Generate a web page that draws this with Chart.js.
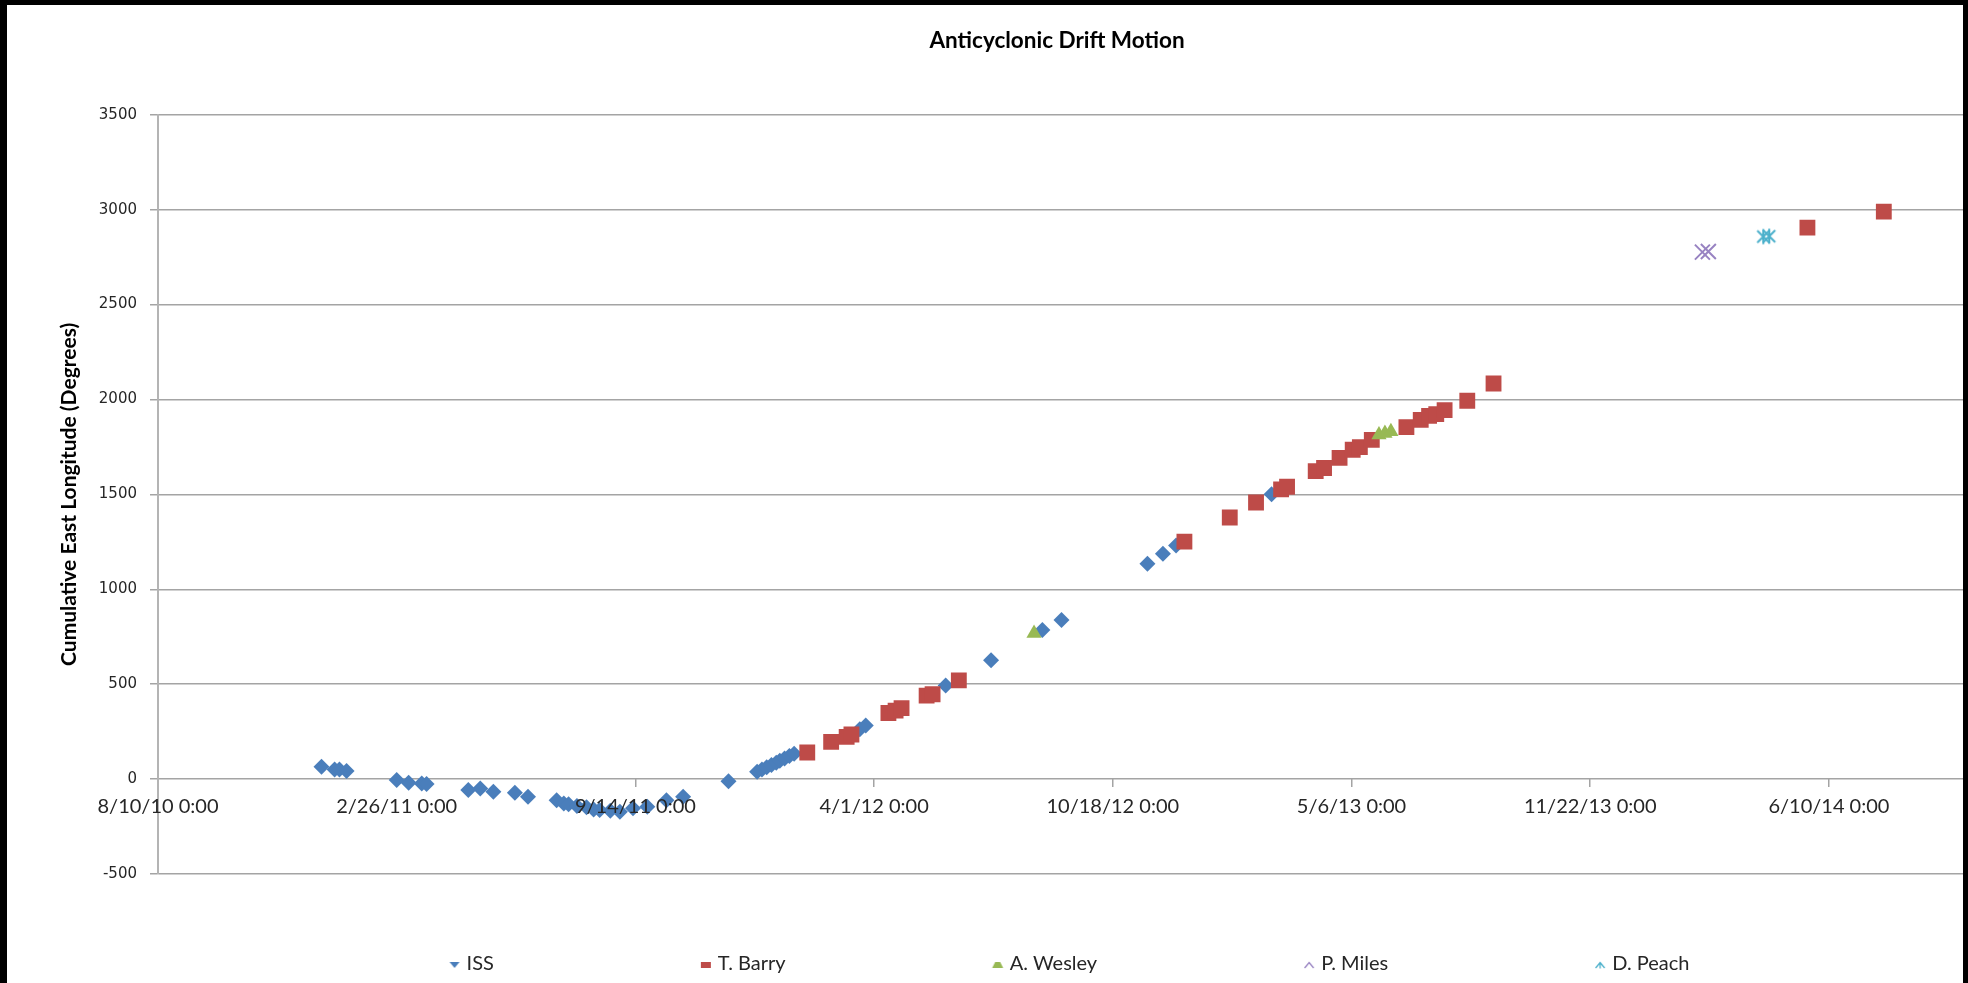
<!DOCTYPE html>
<html>
<head>
<meta charset="utf-8">
<title>Anticyclonic Drift Motion</title>
<script src="https://cdn.jsdelivr.net/npm/chart.js@4.4.1/dist/chart.umd.min.js"></script>
<style>
  html, body { margin: 0; padding: 0; background: #000; overflow: hidden; }
  #frame { position: absolute; left: 7px; top: 5px; width: 1956px; height: 978px; overflow: hidden; background: #fff; }
  #chart { display: block; }
</style>
</head>
<body>
<div id="frame"><canvas id="chart" width="2152" height="978"></canvas></div>
<script>
// Dates are spreadsheet serial day numbers (40400 = 8/10/10).
const X_MIN = 40400;
const X_MAX = 42033;
const X_STEP = 200;
const Y_MIN = -500;
const Y_MAX = 3500;
const Y_STEP = 500;

const CHART_TITLE = 'Anticyclonic Drift Motion';
const Y_TITLE = 'Cumulative East Longitude (Degrees)';
const SERIES_NAMES = ['ISS', 'T. Barry', 'A. Wesley', 'P. Miles', 'D. Peach'];

// ISS
const ISS_DATE = [40537, 40548, 40552, 40558, 40600, 40610, 40621, 40625, 40660, 40670, 40681,
  40699, 40710, 40734, 40740, 40744, 40751, 40759, 40765, 40770, 40779, 40787, 40798, 40810,
  40826, 40840, 40878, 40902, 40906, 40910, 40914, 40918, 40921, 40925, 40929, 40933, 40988,
  40993, 41060, 41098, 41141, 41157, 41229, 41242, 41253, 41333];
const ISS_LON = [65, 51, 51, 42, -5, -19, -23, -26, -58, -49, -67,
  -72, -93, -111, -129, -132, -142, -149, -160, -163, -167, -172, -154, -146,
  -111, -93, -12, 38, 50, 62, 74, 86, 97, 109, 121, 134, 262,
  282, 493, 626, 786, 838, 1134, 1187, 1230, 1500];

// T. Barry
const BARRY_DATE = [40944, 40964, 40977, 40981, 41012, 41018, 41023, 41044, 41049, 41071,
  41260, 41298, 41320, 41341, 41346, 41370, 41377, 41390, 41401, 41407, 41417, 41446, 41458,
  41465, 41471, 41478, 41497, 41519, 41782, 41846];
const BARRY_LON = [140, 196, 222, 235, 348, 361, 374, 440, 447, 520,
  1251, 1378, 1457, 1526, 1540, 1622, 1639, 1692, 1735, 1749, 1787, 1854, 1892,
  1913, 1923, 1944, 1993, 2084, 2905, 2989];

// A. Wesley
const WESLEY_DATE = [41134, 41423, 41428, 41433];
const WESLEY_LON = [768, 1814, 1822, 1831];

// P. Miles
const MILES_DATE = [41694, 41699];
const MILES_LON = [2776, 2779];

// D. Peach
const PEACH_DATE = [41745, 41750];
const PEACH_LON = [2858, 2860];

const COLORS = ['#4A7EBB', '#BE4B48', '#98B954', '#9883C2', '#4BB0CB'];
const TEXT = '#262626';
const GRID = '#A4A4A4';

function toPoints(dates, values) {
  return dates.map((d, i) => ({ x: d, y: values[i] }));
}

function serialLabel(serial) {
  const d = new Date(Date.UTC(1899, 11, 30) + serial * 86400000);
  const yy = String(d.getUTCFullYear() % 100).padStart(2, '0');
  return (d.getUTCMonth() + 1) + '/' + d.getUTCDate() + '/' + yy + ' 0:00';
}

function makeCanvas(w, h, draw) {
  const c = document.createElement('canvas');
  c.width = w;
  c.height = h;
  draw(c.getContext('2d'), w, h);
  return c;
}

// Asterisk marker (diagonal cross plus a vertical stroke).
const starMarker = makeCanvas(18, 18, (g) => {
  g.strokeStyle = COLORS[4];
  g.lineWidth = 2;
  g.beginPath();
  g.moveTo(3, 3); g.lineTo(15, 15);
  g.moveTo(15, 3); g.lineTo(3, 15);
  g.moveTo(9, 1.5); g.lineTo(9, 16.5);
  g.stroke();
});

// Legend swatches: the lower half of each marker, placed just left of the label text.
const LEGEND_BOX = 134;
const ICON_W = 150;
const ICON_H = 14;
function legendIcon(kind, color) {
  return makeCanvas(ICON_W, ICON_H, (g) => {
    const cx = LEGEND_BOX / 2 - 2 + ICON_W / 2, cy = 7;
    g.fillStyle = color;
    g.strokeStyle = color;
    g.lineWidth = 1.3;
    g.beginPath();
    if (kind === 'diamond') {
      g.moveTo(cx - 5, cy - 2); g.lineTo(cx + 5, cy - 2); g.lineTo(cx, cy + 4); g.closePath(); g.fill();
    } else if (kind === 'square') {
      g.fillRect(cx - 5, cy - 2, 10, 6);
    } else if (kind === 'triangle') {
      g.moveTo(cx - 5.5, cy + 4); g.lineTo(cx + 5.5, cy + 4); g.lineTo(cx + 2.5, cy - 2); g.lineTo(cx - 2.5, cy - 2); g.closePath(); g.fill();
    } else if (kind === 'cross') {
      g.moveTo(cx - 4.5, cy + 4); g.lineTo(cx, cy - 1.5); g.lineTo(cx + 4.5, cy + 4); g.stroke();
    } else if (kind === 'star') {
      g.moveTo(cx - 4.5, cy + 4); g.lineTo(cx, cy - 1.5); g.lineTo(cx + 4.5, cy + 4);
      g.moveTo(cx, cy - 1.5); g.lineTo(cx, cy + 4.5); g.stroke();
    }
  });
}
const LEGEND_ICONS = [
  legendIcon('diamond', COLORS[0]),
  legendIcon('square', COLORS[1]),
  legendIcon('triangle', COLORS[2]),
  legendIcon('cross', COLORS[3]),
  legendIcon('star', COLORS[4])
];

// Moves the legend row sideways after layout.
const legendShift = {
  id: 'legendShift',
  afterLayout(chart, args, opts) {
    if (chart.legend) {
      chart.legend.left += opts.dx;
      chart.legend.right += opts.dx;
    }
  }
};

const ctx = document.getElementById('chart').getContext('2d');
new Chart(ctx, {
  type: 'scatter',
  data: {
    datasets: [
      { label: SERIES_NAMES[0], data: toPoints(ISS_DATE, ISS_LON), pointStyle: 'rectRot', pointRadius: 8,
        backgroundColor: COLORS[0], borderColor: COLORS[0], borderWidth: 0, order: 5 },
      { label: SERIES_NAMES[1], data: toPoints(BARRY_DATE, BARRY_LON), pointStyle: 'rect', pointRadius: 11.2,
        backgroundColor: COLORS[1], borderColor: COLORS[1], borderWidth: 0, order: 4 },
      { label: SERIES_NAMES[2], data: toPoints(WESLEY_DATE, WESLEY_LON), pointStyle: 'triangle', pointRadius: 8.8,
        backgroundColor: COLORS[2], borderColor: COLORS[2], borderWidth: 0, order: 3 },
      { label: SERIES_NAMES[3], data: toPoints(MILES_DATE, MILES_LON), pointStyle: 'crossRot', pointRadius: 10.6,
        backgroundColor: COLORS[3], borderColor: COLORS[3], borderWidth: 2, order: 2 },
      { label: SERIES_NAMES[4], data: toPoints(PEACH_DATE, PEACH_LON), pointStyle: starMarker, pointRadius: 9,
        backgroundColor: COLORS[4], borderColor: COLORS[4], borderWidth: 2, order: 1 }
    ]
  },
  options: {
    responsive: false,
    animation: false,
    devicePixelRatio: 1,
    events: [],
    layout: { padding: { left: 0, right: 52, top: 0, bottom: -1 } },
    scales: {
      x: {
        type: 'linear',
        position: { y: 0 },
        min: X_MIN,
        max: X_MAX,
        afterBuildTicks(scale) {
          const ticks = [];
          for (let v = X_MIN; v <= X_MAX; v += X_STEP) ticks.push({ value: v });
          scale.ticks = ticks;
        },
        ticks: {
          z: 1,
          autoSkip: false,
          maxRotation: 0,
          minRotation: 0,
          padding: 7,
          color: TEXT,
          font: { family: 'Lato', size: 20 },
          callback: (v) => serialLabel(v)
        },
        grid: { drawOnChartArea: false, drawTicks: true, tickLength: 8, color: GRID, lineWidth: 1.5 },
        border: { display: false }
      },
      y: {
        min: Y_MIN,
        max: Y_MAX,
        ticks: {
          stepSize: Y_STEP,
          padding: 13,
          color: TEXT,
          font: { family: 'DejaVu Sans', size: 15 },
          callback: (v) => String(v)
        },
        grid: { color: GRID, lineWidth: 1.5, tickLength: 8 },
        border: { display: true, color: '#B4B4B4', width: 2 },
        title: {
          display: true,
          text: Y_TITLE,
          color: '#000',
          font: { family: 'Lato', size: 21, weight: 'bold' },
          padding: { top: 49.4, bottom: 0 }
        },
        afterFit(scale) { scale.width = 151; }
      }
    },
    plugins: {
      title: {
        display: true,
        text: CHART_TITLE,
        color: '#000',
        font: { family: 'Lato', size: 22.5, weight: 'bold' },
        padding: { top: 22.5, bottom: 60.2 }
      },
      legend: {
        position: 'bottom',
        labels: {
          usePointStyle: true,
          pointStyleWidth: LEGEND_BOX,
          padding: 80,
          color: TEXT,
          font: { family: 'Lato', size: 20 },
          generateLabels: (chart) => chart.data.datasets.map((ds, i) => ({
            text: ds.label,
            pointStyle: LEGEND_ICONS[i],
            fontColor: TEXT,
            fillStyle: 'transparent',
            strokeStyle: 'transparent',
            lineWidth: 0,
            hidden: false,
            datasetIndex: i
          }))
        }
      },
      legendShift: { dx: -51 },
      tooltip: { enabled: false }
    }
  },
  plugins: [legendShift]
});
</script>
</body>
</html>
